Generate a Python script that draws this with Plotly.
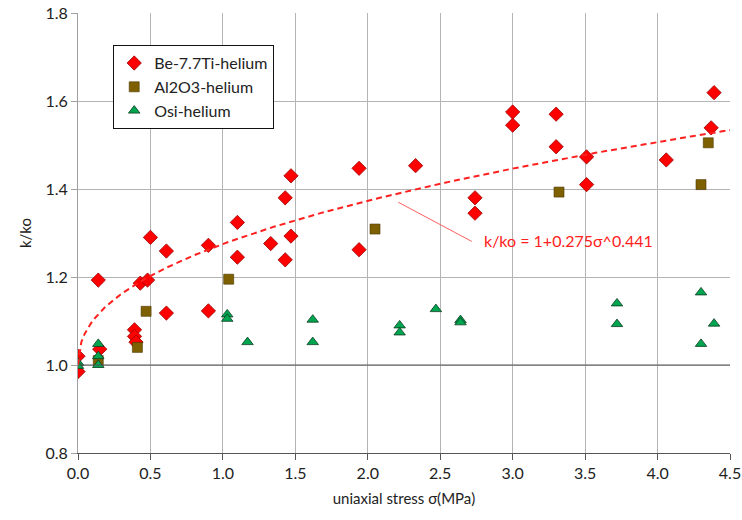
import numpy as np
import plotly.graph_objects as go

# Be-7.7Ti pebble bed in helium
be_x = [0.0, 0.0, 0.14, 0.15, 0.39, 0.39, 0.40, 0.43, 0.48, 0.50,
        0.61, 0.61, 0.90, 0.90, 1.10, 1.10, 1.33, 1.43, 1.43, 1.47,
        1.47, 1.94, 1.94, 2.33, 2.74, 2.74, 3.00, 3.00, 3.30, 3.30,
        3.51, 3.51, 4.06, 4.39, 4.37]
be_y = [1.020, 0.985, 1.193, 1.036, 1.080, 1.065, 1.052, 1.186, 1.193, 1.290,
        1.259, 1.118, 1.272, 1.123, 1.324, 1.245, 1.276, 1.380, 1.239, 1.430,
        1.293, 1.447, 1.262, 1.453, 1.380, 1.345, 1.575, 1.545, 1.570, 1.496,
        1.473, 1.410, 1.466, 1.619, 1.539]

# Al2O3 pebble bed in helium
al_x = [0.14, 0.41, 0.47, 1.04, 2.05, 3.32, 4.35, 4.30]
al_y = [1.010, 1.040, 1.122, 1.195, 1.309, 1.393, 1.505, 1.410]

# Osi pebble bed in helium
osi_x = [0.0, 0.0, 0.14, 0.14, 0.14, 1.03, 1.03, 1.17, 1.62, 1.62,
         2.22, 2.22, 2.47, 2.64, 2.64, 3.72, 3.72, 4.30, 4.30, 4.39]
osi_y = [1.005, 0.998, 1.048, 1.020, 1.000, 1.115, 1.105, 1.052, 1.103, 1.052,
         1.090, 1.074, 1.127, 1.102, 1.097, 1.140, 1.093, 1.165, 1.048, 1.094]

# power-law fit k/ko = 1 + A * sigma^B
fit_a = 0.275
fit_b = 0.441
fit_label = "k/ko = 1+0.275σ^0.441"

x_ticks = [0.0, 0.5, 1.0, 1.5, 2.0, 2.5, 3.0, 3.5, 4.0, 4.5]
y_ticks = [0.8, 1.0, 1.2, 1.4, 1.6, 1.8]

FONT = "Lato"

fig = go.Figure()

fig.add_trace(go.Scatter(
    x=be_x, y=be_y, mode="markers", name="Be-7.7Ti-helium",
    marker=dict(symbol="diamond", size=11, color="#ff0000",
                line=dict(color="#9a0000", width=0.8)),
))
fig.add_trace(go.Scatter(
    x=al_x, y=al_y, mode="markers", name="Al2O3-helium",
    marker=dict(symbol="square", size=10, color="#7f6000",
                line=dict(color="#4a3800", width=0.6)),
))
fig.add_trace(go.Scatter(
    x=osi_x, y=osi_y, mode="markers", name="Osi-helium",
    marker=dict(symbol="triangle-up", size=10, color="#00a550",
                line=dict(color="#0b3b1f", width=0.8)),
))

sig = np.linspace(0.0, 4.5, 200)
fig.add_trace(go.Scatter(
    x=sig, y=1 + fit_a * sig ** fit_b, mode="lines", showlegend=False,
    line=dict(color="#ff2020", width=2, dash="6px,4px"),
    hoverinfo="skip",
))

# unity reference line
fig.add_trace(go.Scatter(
    x=[0.0, 4.5], y=[1.0, 1.0], mode="lines", showlegend=False,
    line=dict(color="#555555", width=1.2), hoverinfo="skip",
))

fig.add_annotation(
    x=2.21, y=1.37, xref="x", yref="y",
    ax=75, ay=40, axref="pixel", ayref="pixel",
    showarrow=True, arrowhead=0, arrowwidth=1, arrowcolor="#ff6060",
    text="",
)
fig.add_annotation(
    x=2.21, y=1.37, xref="x", yref="y",
    xshift=84, yshift=-38, xanchor="left", yanchor="middle",
    showarrow=False, text=fit_label,
    font=dict(family=FONT, size=16, color="#ff2020"),
)

fig.update_xaxes(
    range=[0, 4.5], tickvals=x_ticks, ticktext=[f"{v:.1f}" for v in x_ticks],
    showgrid=True, gridcolor="#b4b4b4", gridwidth=1,
    showline=True, linecolor="#555555", linewidth=1.2,
    ticks="outside", ticklen=6, tickcolor="#555555",
    zeroline=False, automargin=False,
    title=dict(text="uniaxial stress σ(MPa)", font=dict(family=FONT, size=15, color="#222222"),
               standoff=12),
    tickfont=dict(family=FONT, size=16, color="#222222"),
)
fig.update_yaxes(
    range=[0.8, 1.8], tickvals=y_ticks, ticktext=[f"{v:.1f}" for v in y_ticks],
    showgrid=True, gridcolor="#b4b4b4", gridwidth=1,
    showline=True, linecolor="#a0a0a0", linewidth=1,
    ticks="outside", ticklen=6, tickcolor="#a0a0a0",
    zeroline=False, automargin=False,
    title=dict(text="k/ko", font=dict(family=FONT, size=15, color="#222222"), standoff=10),
    tickfont=dict(family=FONT, size=16, color="#222222"),
)

fig.update_layout(
    width=742, height=520,
    margin=dict(l=78, r=12, t=13, b=67),
    paper_bgcolor="white", plot_bgcolor="white",
    showlegend=True,
    legend=dict(
        x=0.054, y=0.927, xanchor="left", yanchor="top",
        bgcolor="white", bordercolor="#111111", borderwidth=1,
        font=dict(family=FONT, size=16, color="#222222"),
        tracegroupgap=0, entrywidth=182, entrywidthmode="pixels",
    ),
)

fig.write_html("out.html")
